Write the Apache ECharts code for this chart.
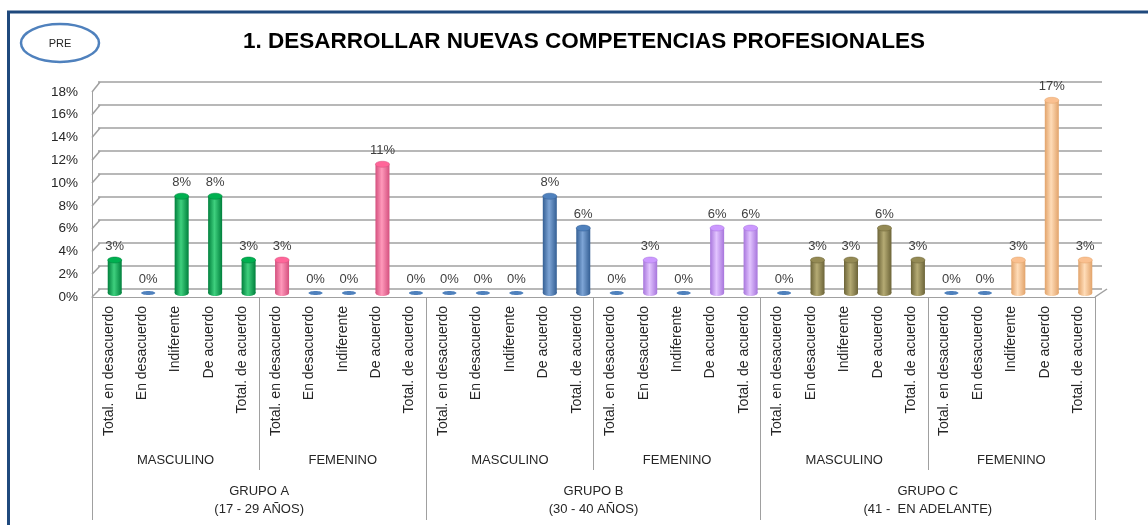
<!DOCTYPE html>
<html>
<head>
<meta charset="utf-8">
<title>1. DESARROLLAR NUEVAS COMPETENCIAS PROFESIONALES</title>
<script src="https://cdn.jsdelivr.net/npm/echarts@6/dist/echarts.min.js"></script>
<style>
  html, body { margin: 0; padding: 0; background: #fff; }
  #mychart { width: 1148px; height: 525px; }
</style>
</head>
<body>
<div id="mychart"></div>
<script>
// categorias del eje x (3 niveles)
const respuestas = ["Total. en desacuerdo", "En desacuerdo", "Indiferente", "De acuerdo", "Total. de acuerdo"];
const generos = ["MASCULINO", "FEMENINO"];
const grupos = ["GRUPO A\n(17 - 29 AÑOS)", "GRUPO B\n(30 - 40 AÑOS)", "GRUPO C\n(41 -  EN ADELANTE)"];

// porcentajes por grupo / genero (en el orden de respuestas)
const grupoA_masc = [2.78, 0, 8.33, 8.33, 2.78];
const grupoA_fem = [2.78, 0, 0, 11.11, 0];
const grupoB_masc = [0, 0, 0, 8.33, 5.56];
const grupoB_fem = [0, 2.78, 0, 5.56, 5.56];
const grupoC_masc = [0, 2.78, 2.78, 5.56, 2.78];
const grupoC_fem = [0, 0, 2.78, 16.67, 2.78];

// ticks eje y
const yTicks = [0, 2, 4, 6, 8, 10, 12, 14, 16, 18];

// colores de cada bloque (masc A, fem A, masc B, ...): [oscuro, base, claro]
const colores = [
  ["#00803c", "#00b050", "#3fd07e"],
  ["#d4507e", "#ff6699", "#ff99bb"],
  ["#345f94", "#4f81bd", "#7ea5d6"],
  ["#a775dc", "#cc99ff", "#e2c4ff"],
  ["#6c6438", "#948a54", "#b5ab74"],
  ["#e2a36a", "#fac090", "#ffdcb8"]
];
const colorCero = "#4f81bd";

const bloques = [grupoA_masc, grupoA_fem, grupoB_masc, grupoB_fem, grupoC_masc, grupoC_fem];
const valores = [].concat(...bloques);
const categorias = [].concat(...bloques.map(() => respuestas));
const categoriasGenero = [].concat(...grupos.map(() => generos));

const fuente = "Liberation Sans";
const gris = "#a0a0a0";

// grid trasero (barras) y grid delantero (etiquetas)
const gBack = { left: 98, top: 82, width: 1004, height: 207 };
const gFront = { left: 92, top: 92, width: 1003, height: 205 };

function renderCilindro(params, api) {
  const i = api.value(0);
  const v = api.value(1);
  const top = api.coord([i, v]);
  const base = api.coord([i, 0]);
  const x = top[0];
  const w = 14;
  const by = base[1] + 4;
  const ty = top[1] + 3;
  const txt = {
    type: "text",
    style: {
      text: Math.round(v) + "%",
      x: x,
      y: (v > 0 ? ty : by) - 14,
      align: "center",
      verticalAlign: "middle",
      font: "13px " + fuente,
      fill: "#404040"
    }
  };
  if (v === 0) {
    return {
      type: "group",
      children: [
        { type: "ellipse", shape: { cx: x, cy: by, rx: 7, ry: 2 }, style: { fill: colorCero } },
        txt
      ]
    };
  }
  const c = colores[Math.floor(i / 5)];
  const grad = new echarts.graphic.LinearGradient(0, 0, 1, 0, [
    { offset: 0, color: c[0] },
    { offset: 0.45, color: c[2] },
    { offset: 1, color: c[0] }
  ]);
  return {
    type: "group",
    children: [
      { type: "ellipse", shape: { cx: x, cy: by, rx: w / 2, ry: 3 }, style: { fill: grad } },
      { type: "rect", shape: { x: x - w / 2, y: ty, width: w, height: by - ty }, style: { fill: grad } },
      { type: "ellipse", shape: { cx: x, cy: ty, rx: w / 2, ry: 3 }, style: { fill: c[1], stroke: c[0], lineWidth: 0.5 } },
      txt
    ]
  };
}

let mychart = echarts.init(document.getElementById("mychart"));
let options = {
  animation: false,
  backgroundColor: "#fff",
  textStyle: { fontFamily: fuente },
  grid: [
    { left: gBack.left, top: gBack.top, width: gBack.width, height: gBack.height, outerBoundsMode: "none", containLabel: false },
    { left: gFront.left, top: gFront.top, width: gFront.width, height: gFront.height, outerBoundsMode: "none", containLabel: false }
  ],
  xAxis: [
    // barras
    { type: "category", gridIndex: 0, data: categorias, show: false },
    // respuestas
    {
      type: "category",
      gridIndex: 1,
      position: "bottom",
      data: categorias,
      axisLine: { lineStyle: { color: gris, width: 1 } },
      axisTick: { show: false },
      axisLabel: { interval: 0, rotate: 90, margin: 9, fontSize: 14, color: "#262626", fontFamily: fuente }
    },
    // genero
    {
      type: "category",
      gridIndex: 1,
      position: "bottom",
      offset: 0,
      data: categoriasGenero,
      axisLine: { show: false },
      axisTick: { show: true, interval: 0, length: 173, lineStyle: { color: gris, width: 1 } },
      axisLabel: { interval: 0, margin: 157, fontSize: 13, color: "#262626", fontFamily: fuente }
    },
    // grupo
    {
      type: "category",
      gridIndex: 1,
      position: "bottom",
      offset: 0,
      data: grupos,
      axisLine: { show: false },
      axisTick: { show: true, interval: 0, length: 223, lineStyle: { color: gris, width: 1 } },
      axisLabel: { interval: 0, margin: 185, fontSize: 13, lineHeight: 18, color: "#262626", fontFamily: fuente }
    }
  ],
  yAxis: [
    {
      type: "value",
      gridIndex: 0,
      min: 0,
      max: 18,
      interval: 2,
      axisLine: { show: false },
      axisTick: { show: false },
      axisLabel: { show: false },
      splitLine: { lineStyle: { color: gris, width: 1.5 } }
    },
    {
      type: "value",
      gridIndex: 1,
      min: 0,
      max: 18,
      interval: 2,
      axisLine: { show: true, lineStyle: { color: gris, width: 1 } },
      axisTick: { show: false },
      splitLine: { show: false },
      axisLabel: { formatter: "{value}%", margin: 14, fontSize: 13.5, color: "#262626", fontFamily: fuente }
    }
  ],
  series: [
    {
      type: "custom",
      xAxisIndex: 0,
      yAxisIndex: 0,
      renderItem: renderCilindro,
      data: valores.map((v, i) => [i, v]),
      z: 5
    }
  ]
};
mychart.setOption(options);

// pared lateral y suelo en 3D + marco, titulo y ovalo PRE
let graficos = [
  { type: "rect", shape: { x: 8.5, y: 12, width: 1200, height: 600 }, style: { fill: null, stroke: "#1f497d", lineWidth: 3 }, silent: true },
  { type: "ellipse", shape: { cx: 60, cy: 43, rx: 39, ry: 19 }, style: { fill: null, stroke: "#4f81bd", lineWidth: 2.5 } },
  { type: "text", style: { text: "PRE", x: 60, y: 44, align: "center", verticalAlign: "middle", font: "11px " + fuente, fill: "#262626" } },
  {
    type: "text",
    style: {
      text: "1. DESARROLLAR NUEVAS COMPETENCIAS PROFESIONALES",
      x: 584, y: 42, align: "center", verticalAlign: "middle",
      font: "bold 22.5px " + fuente, fill: "#000"
    }
  }
];
yTicks.forEach(function (t) {
  const yf = mychart.convertToPixel({ yAxisIndex: 1 }, t);
  const yb = mychart.convertToPixel({ yAxisIndex: 0 }, t);
  graficos.push({
    type: "line",
    shape: { x1: gFront.left, y1: yf, x2: gBack.left + 2, y2: yb },
    style: { stroke: gris, lineWidth: 1.5 }
  });
});
const y0f = mychart.convertToPixel({ yAxisIndex: 1 }, 0);
const y0b = mychart.convertToPixel({ yAxisIndex: 0 }, 0);
graficos.push({
  type: "line",
  shape: { x1: gFront.left + gFront.width, y1: y0f, x2: gBack.left + gBack.width + 5, y2: y0b },
  style: { stroke: gris, lineWidth: 1.5 }
});
mychart.setOption({ graphic: graficos });
</script>
</body>
</html>
